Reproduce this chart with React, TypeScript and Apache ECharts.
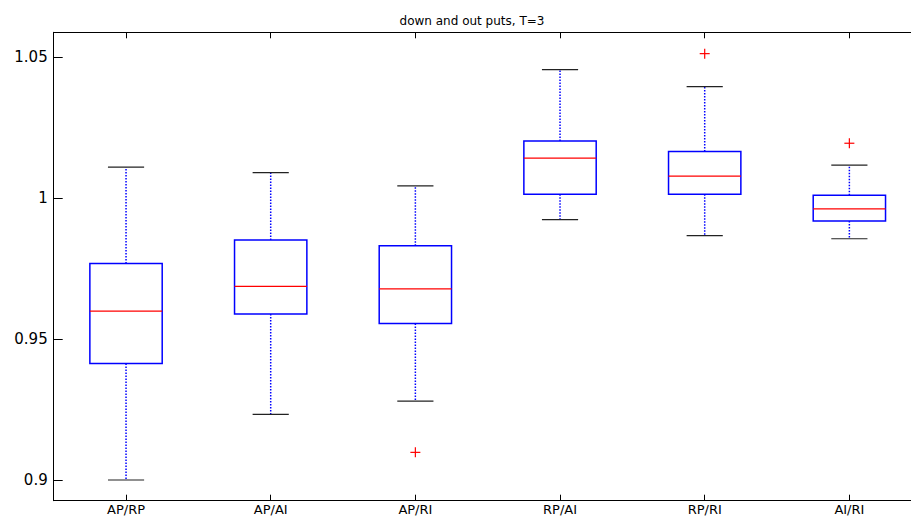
import React, { useEffect, useRef } from "react";
import * as echarts from "echarts";

const categories = ["AP/RP", "AP/AI", "AP/RI", "RP/AI", "RP/RI", "AI/RI"];
const lowerWhisker = [0.9, 0.9233, 0.928, 0.9924, 0.9867, 0.9856];
const q1 = [0.9413, 0.9589, 0.9555, 1.0014, 1.0014, 0.9919];
const median = [0.9599, 0.9687, 0.9678, 1.0142, 1.0078, 0.9962];
const q3 = [0.9768, 0.9852, 0.9831, 1.0203, 1.0166, 1.001];
const upperWhisker = [1.011, 1.0091, 1.0044, 1.0456, 1.0396, 1.0117];
const outlierCategory = [2, 4, 5];
const outlierValue = [0.9098, 1.0513, 1.0195];
const yTicks = [0.9, 0.95, 1, 1.05];
const titleText = "down and out puts, T=3";

const FONT = "DejaVu Sans";

export default function App() {
  const ref = useRef<HTMLDivElement>(null);

  useEffect(() => {
    if (!ref.current) return;
    const chart = echarts.init(ref.current, null, { renderer: "svg" });

    const boxData = categories.map((_, i) => [
      i,
      lowerWhisker[i],
      q1[i],
      median[i],
      q3[i],
      upperWhisker[i],
    ]);
    const outlierData = outlierCategory.map((c, i) => [c, outlierValue[i]]);

    const fmt = (v: any) => String(parseFloat(Number(v).toFixed(4)));

    const yCommon = {
      type: "value" as const,
      min: 0.89265,
      max: 1.05887,
      splitLine: { show: false },
      axisLine: { show: true, lineStyle: { color: "#000", width: 1 } },
      axisTick: {
        show: true,
        inside: true,
        length: 9,
        customValues: yTicks,
        lineStyle: { color: "#000", width: 1 },
      },
    };

    const xCommon = {
      type: "category" as const,
      data: categories,
      boundaryGap: true,
      splitLine: { show: false },
      axisLine: { show: true, onZero: false, lineStyle: { color: "#000", width: 1 } },
      axisTick: {
        show: true,
        inside: true,
        alignWithLabel: true,
        length: 6,
        lineStyle: { color: "#000", width: 1 },
      },
    };

    chart.setOption({
      animation: false,
      backgroundColor: "#fff",
      title: {
        text: titleText,
        left: 467,
        top: 10,
        textAlign: "center",
        textStyle: {
          fontFamily: FONT,
          fontSize: 12,
          fontWeight: "normal",
          color: "#000",
        },
      },
      grid: {
        left: 53.7,
        top: 32.3,
        width: 868,
        height: 468.4,
        containLabel: false,
        outerBoundsMode: "none",
      },
      xAxis: [
        {
          ...xCommon,
          position: "bottom",
          axisLabel: {
            show: true,
            color: "#000",
            fontFamily: FONT,
            fontSize: 13,
            lineHeight: 13,
            margin: 2,
          },
        },
        {
          ...xCommon,
          position: "top",
          axisLabel: { show: false },
        },
      ],
      yAxis: [
        {
          ...yCommon,
          position: "left",
          axisLabel: {
            show: true,
            customValues: yTicks,
            formatter: fmt,
            color: "#000",
            fontFamily: FONT,
            fontSize: 15,
            margin: 6,
          },
        },
        {
          ...yCommon,
          position: "right",
          axisLabel: { show: false },
        },
      ],
      series: [
        {
          type: "custom",
          xAxisIndex: 0,
          yAxisIndex: 0,
          data: boxData,
          encode: { x: 0, y: [1, 2, 3, 4, 5] },
          renderItem: (params: any, api: any) => {
            const x = api.value(0);
            const pLow = api.coord([x, api.value(1)]);
            const pQ1 = api.coord([x, api.value(2)]);
            const pMed = api.coord([x, api.value(3)]);
            const pQ3 = api.coord([x, api.value(4)]);
            const pUp = api.coord([x, api.value(5)]);
            const band = api.size([1, 0])[0];
            const cx = pMed[0];
            const half = band * 0.25;
            const capHalf = band * 0.125;
            const whiskerStyle = {
              stroke: "#0000ff",
              lineWidth: 1.5,
              lineDash: [1.5, 1.5],
            };
            const capStyle = { stroke: "#222", lineWidth: 1.2 };
            return {
              type: "group",
              children: [
                {
                  type: "line",
                  shape: { x1: cx, y1: pQ3[1], x2: cx, y2: pUp[1] },
                  style: whiskerStyle,
                },
                {
                  type: "line",
                  shape: { x1: cx, y1: pQ1[1], x2: cx, y2: pLow[1] },
                  style: whiskerStyle,
                },
                {
                  type: "line",
                  shape: { x1: cx - capHalf, y1: pUp[1], x2: cx + capHalf, y2: pUp[1] },
                  style: capStyle,
                },
                {
                  type: "line",
                  shape: { x1: cx - capHalf, y1: pLow[1], x2: cx + capHalf, y2: pLow[1] },
                  style: capStyle,
                },
                {
                  type: "rect",
                  shape: {
                    x: cx - half,
                    y: pQ3[1],
                    width: half * 2,
                    height: pQ1[1] - pQ3[1],
                  },
                  style: { fill: "none", stroke: "#0000ff", lineWidth: 1.5 },
                },
                {
                  type: "line",
                  shape: { x1: cx - half, y1: pMed[1], x2: cx + half, y2: pMed[1] },
                  style: { stroke: "#ff0000", lineWidth: 1.2 },
                },
              ],
            };
          },
        },
        {
          type: "custom",
          xAxisIndex: 0,
          yAxisIndex: 0,
          data: outlierData,
          encode: { x: 0, y: 1 },
          renderItem: (params: any, api: any) => {
            const p = api.coord([api.value(0), api.value(1)]);
            const s = 5;
            const st = { stroke: "#ff0000", lineWidth: 1.2 };
            return {
              type: "group",
              children: [
                {
                  type: "line",
                  shape: { x1: p[0] - s, y1: p[1], x2: p[0] + s, y2: p[1] },
                  style: st,
                },
                {
                  type: "line",
                  shape: { x1: p[0], y1: p[1] - s, x2: p[0], y2: p[1] + s },
                  style: st,
                },
              ],
            };
          },
        },
      ],
    });

    return () => chart.dispose();
  }, []);

  return (
    <div
      ref={ref}
      style={{
        position: "fixed",
        left: 0,
        top: 0,
        width: 911,
        height: 516,
        background: "#fff",
      }}
    />
  );
}
